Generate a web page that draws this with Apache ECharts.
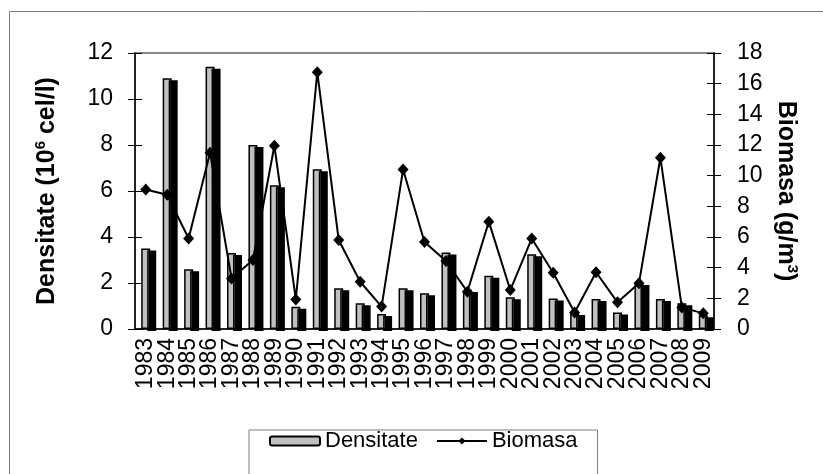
<!DOCTYPE html>
<html>
<head>
<meta charset="utf-8">
<script src="https://cdn.jsdelivr.net/npm/echarts@6/dist/echarts.min.js"></script>
<style>
  html, body { margin: 0; padding: 0; background: #fff; }
  #chart { width: 823px; height: 474px; }
</style>
</head>
<body>
<div id="chart"></div>
<script>
const years = ['1983', '1984', '1985', '1986', '1987', '1988', '1989', '1990', '1991',
  '1992', '1993', '1994', '1995', '1996', '1997', '1998', '1999', '2000', '2001',
  '2002', '2003', '2004', '2005', '2006', '2007', '2008', '2009'];
// Densitate, 10^6 cel/l (left axis)
const densitate = [3.5, 10.9, 2.6, 11.4, 3.3, 8.0, 6.25, 0.97, 6.95, 1.77, 1.12, 0.65, 1.77,
  1.55, 3.33, 1.7, 2.32, 1.38, 3.25, 1.33, 0.7, 1.3, 0.72, 2.0, 1.3, 1.12, 0.6];
// Biomasa, g/m3 (right axis)
const biomasa = [9.1, 8.75, 5.9, 11.5, 3.3, 4.5, 11.95, 1.93, 16.75, 5.8, 3.08, 1.46, 10.4,
  5.67, 4.43, 2.43, 7.0, 2.54, 5.9, 3.67, 1.07, 3.7, 1.74, 2.98, 11.17, 1.41, 1.02];

const FONT = '"Liberation Sans", Arial, sans-serif';

var myChart = echarts.init(document.getElementById('chart'));
var option;

const nameRich = {
  a: { fontFamily: FONT, fontSize: 25, fontWeight: 'bold', color: '#000', lineHeight: 28 },
  s: { fontFamily: FONT, fontSize: 15, fontWeight: 'bold', color: '#000', verticalAlign: 'top', lineHeight: 28 }
};

option = {
  animation: false,
  backgroundColor: '#fff',
  textStyle: { fontFamily: FONT },
  graphic: [{
    type: 'rect',
    shape: { x: 9.5, y: 11.5, width: 840, height: 500 },
    style: { fill: 'none', stroke: '#7f7f7f', lineWidth: 1 },
    silent: true
  }],
  grid: {
    left: 135, right: 109, top: 53, bottom: 145,
    show: true,
    borderColor: '#8a8a8a',
    borderWidth: 2
  },
  legend: {
    left: 249,
    top: 430,
    padding: [0, 20, 40, 20],
    borderColor: '#7f7f7f',
    borderWidth: 1,
    itemWidth: 50,
    itemHeight: 9,
    itemGap: 18,
    textStyle: { fontFamily: FONT, fontSize: 22, color: '#000', lineHeight: 20 },
    itemStyle: { shadowColor: 'rgba(0,0,0,0)', shadowOffsetX: 0, shadowOffsetY: 0, shadowBlur: 0 },
    data: ['Densitate', 'Biomasa']
  },
  xAxis: {
    type: 'category',
    data: years,
    axisLine: { lineStyle: { color: '#000', width: 1.5 } },
    axisTick: { length: 6, lineStyle: { color: '#000', width: 1 } },
    axisLabel: {
      rotate: 90, interval: 0, margin: 9,
      fontFamily: FONT, fontSize: 23, color: '#000'
    }
  },
  yAxis: [
    {
      type: 'value', position: 'left', min: 0, max: 12, interval: 2,
      name: '{a|Densitate (10}{s|6}{a| cel/l)}',
      nameLocation: 'middle', nameGap: 74, nameRotate: 90,
      nameTextStyle: { rich: nameRich },
      axisLine: { show: true, lineStyle: { color: '#000', width: 1.5 } },
      axisTick: { show: true, length: 7, lineStyle: { color: '#000' } },
      axisLabel: { margin: 22, fontFamily: FONT, fontSize: 23, color: '#000' },
      splitLine: { show: false }
    },
    {
      type: 'value', position: 'right', min: 0, max: 18, interval: 2,
      name: '{a|Biomasa (g/m}{s|3}{a|)}',
      nameLocation: 'middle', nameGap: 52, nameRotate: -90,
      nameTextStyle: { rich: nameRich },
      axisLine: { show: true, lineStyle: { color: '#000', width: 1.5 } },
      axisTick: { show: true, length: 7, lineStyle: { color: '#000' } },
      axisLabel: { margin: 23, fontFamily: FONT, fontSize: 23, color: '#000' },
      splitLine: { show: false }
    },
    {
      // inner half of the crossing ticks, left
      type: 'value', position: 'left', min: 0, max: 12, interval: 2,
      axisLine: { show: false },
      axisTick: { show: true, inside: true, length: 7, lineStyle: { color: '#000' } },
      axisLabel: { show: false },
      splitLine: { show: false }
    },
    {
      // inner half of the crossing ticks, right
      type: 'value', position: 'right', min: 0, max: 18, interval: 2,
      axisLine: { show: false },
      axisTick: { show: true, inside: true, length: 7, lineStyle: { color: '#000' } },
      axisLabel: { show: false },
      splitLine: { show: false }
    }
  ],
  series: [
    {
      name: 'Densitate',
      type: 'bar',
      yAxisIndex: 0,
      data: densitate,
      barWidth: 9,
      itemStyle: {
        color: '#c0c0c0',
        borderColor: '#000',
        borderWidth: 1.5,
        shadowColor: '#000',
        shadowOffsetX: 6,
        shadowOffsetY: 2,
        shadowBlur: 0
      }
    },
    {
      name: 'Biomasa',
      type: 'line',
      yAxisIndex: 1,
      data: biomasa,
      symbol: 'diamond',
      symbolSize: [11, 12],
      lineStyle: { color: '#000', width: 2 },
      itemStyle: { color: '#000' },
      z: 5
    }
  ]
};

option && myChart.setOption(option);
</script>
</body>
</html>
